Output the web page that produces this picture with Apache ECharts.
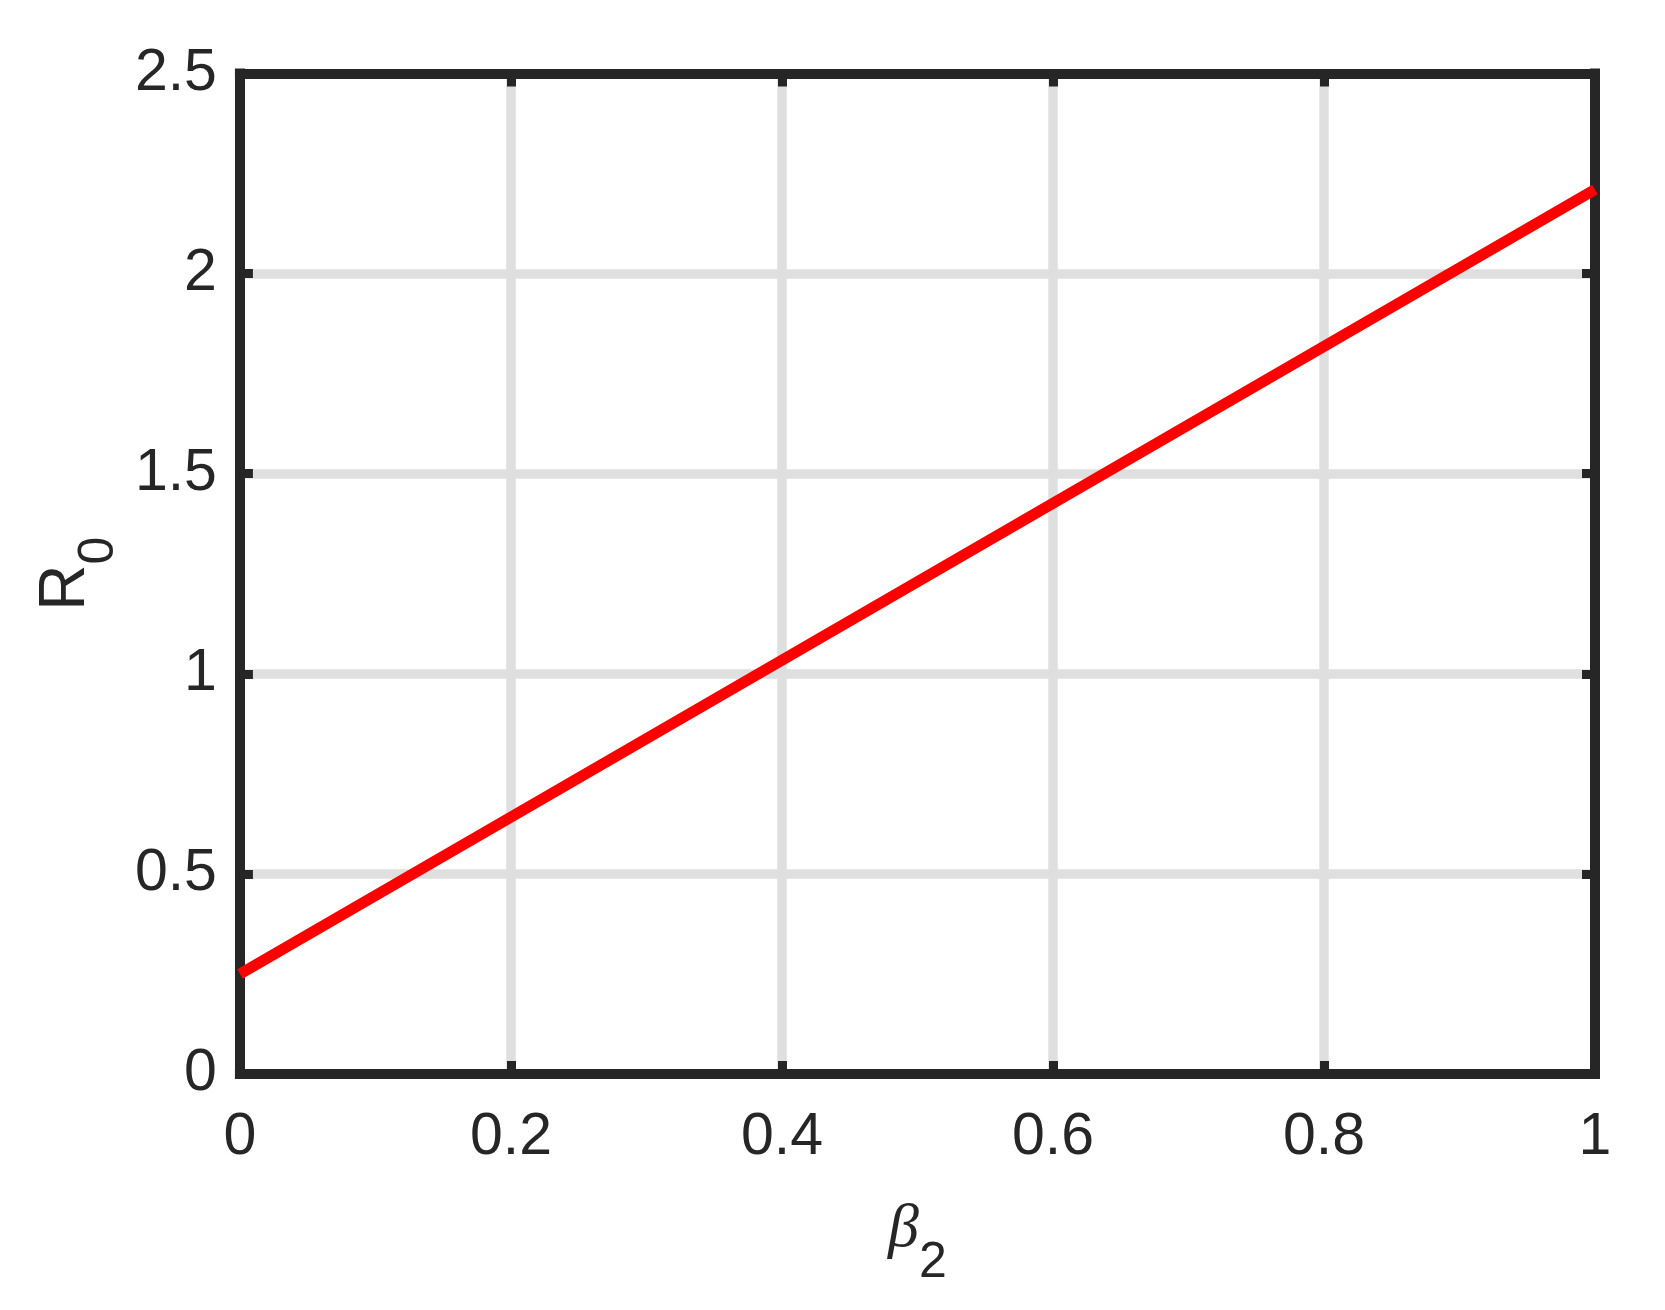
<!DOCTYPE html>
<html>
<head>
<meta charset="utf-8">
<script src="https://cdn.jsdelivr.net/npm/echarts@6/dist/echarts.min.js"></script>
<style>
  html, body { margin: 0; padding: 0; background: #fff; }
  #main { width: 1665px; height: 1310px; }
</style>
</head>
<body>
<div id="main"></div>
<script>
// 数据
var beta2 = [0, 0.5, 1];
var r0 = [0.25, 1.23, 2.21];
var xTicks = [0, 0.2, 0.4, 0.6, 0.8, 1];
var yTicks = [0, 0.5, 1, 1.5, 2, 2.5];

var ink = '#262626';
var gridGray = '#dfdfdf';
var sans = 'Liberation Sans';

var points = beta2.map(function (b, i) { return [b, r0[i]]; });

// onZero 关掉，否则上/右边框会被挪到 0 的位置
var frameLine = { show: true, onZero: false, lineStyle: { color: ink, width: 10, cap: 'square' } };
var frameTick = { show: true, inside: true, length: 13, lineStyle: { color: ink, width: 9 } };

var myChart = echarts.init(document.getElementById('main'));
myChart.setOption({
    animation: false,
    backgroundColor: '#fff',
    grid: { left: 238, right: 70, top: 73.5, bottom: 236 },
    xAxis: [
        {
            type: 'value',
            position: 'bottom',
            min: xTicks[0],
            max: xTicks[xTicks.length - 1],
            interval: 0.2,
            axisLine: frameLine,
            axisTick: frameTick,
            splitLine: { show: true, lineStyle: { color: gridGray, width: 9.5 } },
            axisLabel: { margin: 34, fontSize: 59, color: ink, fontFamily: sans },
            name: '{b|β}{s|2}',
            nameLocation: 'middle',
            nameGap: 116,
            nameTextStyle: {
                rich: {
                    b: { fontSize: 62, lineHeight: 62, fontFamily: 'Liberation Serif', fontStyle: 'italic', color: ink, verticalAlign: 'top' },
                    s: { fontSize: 50, lineHeight: 50, fontFamily: sans, color: ink, padding: [66, 0, 0, 0] }
                }
            }
        },
        {
            // 上边框
            type: 'value',
            position: 'top',
            min: 0,
            max: 1,
            interval: 0.2,
            axisLine: frameLine,
            axisTick: frameTick,
            axisLabel: { show: false },
            splitLine: { show: false }
        }
    ],
    yAxis: [
        {
            type: 'value',
            position: 'left',
            min: yTicks[0],
            max: yTicks[yTicks.length - 1],
            interval: 0.5,
            axisLine: frameLine,
            axisTick: frameTick,
            splitLine: { show: true, lineStyle: { color: gridGray, width: 9.5 } },
            axisLabel: { margin: 23, fontSize: 59, color: ink, fontFamily: sans },
            name: '{r|R}{s|0}',
            nameLocation: 'middle',
            nameRotate: 90,
            nameGap: 128,
            nameTextStyle: {
                rich: {
                    r: { fontSize: 64, lineHeight: 64, fontFamily: sans, color: ink, verticalAlign: 'top' },
                    s: { fontSize: 50, lineHeight: 50, fontFamily: sans, color: ink, padding: [66, 0, 0, 0] }
                }
            }
        },
        {
            // 右边框
            type: 'value',
            position: 'right',
            min: 0,
            max: 2.5,
            interval: 0.5,
            axisLine: frameLine,
            axisTick: frameTick,
            axisLabel: { show: false },
            splitLine: { show: false }
        }
    ],
    series: [{
        type: 'line',
        xAxisIndex: 0,
        yAxisIndex: 0,
        data: points,
        showSymbol: false,
        clip: false,
        z: 3,
        lineStyle: { color: '#ff0000', width: 11 }
    }]
});
</script>
</body>
</html>
